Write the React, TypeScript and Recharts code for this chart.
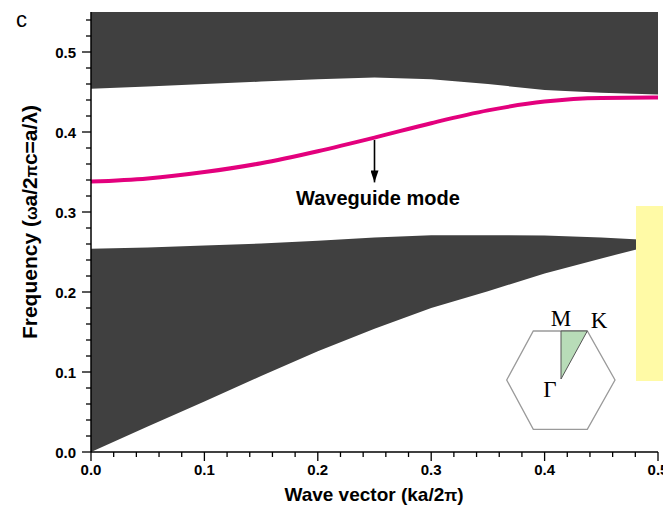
import React from 'react';
import {
  ComposedChart,
  Area,
  Line,
  XAxis,
  YAxis,
  ReferenceLine,
  ReferenceDot,
} from 'recharts';

// Wave vector samples (ka/2π)
const kValues = [0, 0.05, 0.1, 0.15, 0.2, 0.25, 0.3, 0.35, 0.4, 0.45, 0.5];
// Lower edge of the upper (dark) band
const upperBandEdge = [0.454, 0.457, 0.46, 0.463, 0.466, 0.468, 0.466, 0.46, 0.4525, 0.449, 0.447];
// Waveguide mode (magenta curve)
const waveguideMode = [0.338, 0.342, 0.35, 0.361, 0.376, 0.393, 0.411, 0.427, 0.438, 0.4425, 0.443];
// Lower dark band: top and bottom edges
const lowerBandTop = [0.254, 0.2555, 0.258, 0.2605, 0.264, 0.268, 0.271, 0.271, 0.2705, 0.268, 0.2645];
const lowerBandBottom = [0, 0.032, 0.063, 0.095, 0.126, 0.154, 0.18, 0.201, 0.223, 0.242, 0.26];

const FREQ_MAX = 0.55;
const K_MAX = 0.5;

const xMajorTicks = [0, 0.1, 0.2, 0.3, 0.4, 0.5];
const xAllTicks = [
  0, 0.02, 0.04, 0.06, 0.08, 0.1, 0.12, 0.14, 0.16, 0.18, 0.2, 0.22, 0.24, 0.26,
  0.28, 0.3, 0.32, 0.34, 0.36, 0.38, 0.4, 0.42, 0.44, 0.46, 0.48, 0.5,
];
const yMajorTicks = [0, 0.1, 0.2, 0.3, 0.4, 0.5];
const yAllTicks = [
  0, 0.02, 0.04, 0.06, 0.08, 0.1, 0.12, 0.14, 0.16, 0.18, 0.2, 0.22, 0.24, 0.26,
  0.28, 0.3, 0.32, 0.34, 0.36, 0.38, 0.4, 0.42, 0.44, 0.46, 0.48, 0.5, 0.52, 0.54,
];

const data = kValues.map((k, i) => ({
  k,
  upper: [upperBandEdge[i], FREQ_MAX],
  lower: [lowerBandBottom[i], lowerBandTop[i]],
  mode: waveguideMode[i],
}));

const FONT = '"Liberation Sans", Arial, Helvetica, sans-serif';
const SERIF = '"Liberation Serif", "Times New Roman", serif';

const XTick = (props: any) => {
  const { x, y, payload } = props;
  const v = payload.value;
  const major = xMajorTicks.includes(v);
  return (
    <g>
      <line x1={x} y1={y} x2={x} y2={y + (major ? 9 : 5)} stroke="#000" strokeWidth={1.3} />
      {major && (
        <text x={x} y={y + 23} textAnchor="middle" fontFamily={FONT} fontWeight="bold" fontSize={15} fill="#000">
          {v.toFixed(1)}
        </text>
      )}
    </g>
  );
};

const YTick = (props: any) => {
  const { x, y, payload } = props;
  const v = payload.value;
  const major = yMajorTicks.includes(v);
  return (
    <g>
      <line x1={x} y1={y} x2={x - (major ? 9 : 5)} y2={y} stroke="#000" strokeWidth={1.3} />
      {major && (
        <text x={x - 15} y={y + 5.5} textAnchor="end" fontFamily={FONT} fontWeight="bold" fontSize={15} fill="#000">
          {v.toFixed(1)}
        </text>
      )}
    </g>
  );
};

const ArrowShape = (props: any) => {
  const { x1, y1, x2, y2 } = props;
  return (
    <line x1={x1} y1={y1} x2={x2} y2={y2} stroke="#000" strokeWidth={1.6} markerEnd="url(#wgArrow)" />
  );
};

export default function App() {
  return (
    <div style={{ position: 'absolute', left: 0, top: 0, width: 663, height: 514, overflow: 'hidden', background: '#fff' }}>
      <svg width={0} height={0} style={{ position: 'absolute' }}>
        <defs>
          <marker id="wgArrow" viewBox="0 0 12 8" refX={12} refY={4} markerWidth={12} markerHeight={8} markerUnits="userSpaceOnUse" orient="auto">
            <path d="M0,0 L12,4 L0,8 z" fill="#000" />
          </marker>
        </defs>
      </svg>
      <ComposedChart
        width={663}
        height={514}
        data={data}
        margin={{ top: 12, right: 5, bottom: 0, left: 0 }}
      >
        <XAxis
          dataKey="k"
          type="number"
          domain={[0, K_MAX]}
          ticks={xAllTicks}
          interval={0}
          tick={XTick}
          tickLine={false}
          tickSize={0}
          tickMargin={0}
          height={62}
          allowDataOverflow
          axisLine={{ stroke: '#000', strokeWidth: 1.5 }}
        />
        <XAxis xAxisId="top" orientation="top" type="number" domain={[0, K_MAX]} height={0} tick={false} tickLine={false} axisLine={{ stroke: '#222', strokeWidth: 1 }} />
        <YAxis
          type="number"
          domain={[0, FREQ_MAX]}
          ticks={yAllTicks}
          interval={0}
          tick={YTick}
          tickLine={false}
          tickSize={0}
          tickMargin={0}
          width={91}
          allowDataOverflow
          axisLine={{ stroke: '#000', strokeWidth: 1.5 }}
        />
        <YAxis yAxisId="right" orientation="right" type="number" domain={[0, FREQ_MAX]} width={0} tick={false} tickLine={false} axisLine={{ stroke: '#333', strokeWidth: 1.3 }} />
        <Area dataKey="upper" type="linear" stroke="none" fill="#404040" fillOpacity={1} isAnimationActive={false} />
        <Area dataKey="lower" type="linear" stroke="none" fill="#404040" fillOpacity={1} isAnimationActive={false} />
        <Line dataKey="mode" type="monotone" stroke="#e3007d" strokeWidth={4} dot={false} activeDot={false} isAnimationActive={false} />
        <ReferenceLine
          segment={[{ x: 0.25, y: 0.39 }, { x: 0.25, y: 0.337 }]}
          shape={ArrowShape}
        />
        <ReferenceDot
          x={0.253}
          y={0.318}
          r={0}
          fill="none"
          stroke="none"
          label={{ value: 'Waveguide mode', position: 'center', fill: '#000', fontSize: 20, fontWeight: 'bold', fontFamily: FONT }}
        />
      </ComposedChart>
      <svg width={663} height={514} style={{ position: 'absolute', left: 0, top: 0, pointerEvents: 'none' }}>
        <text x={16} y={27} fontFamily={FONT} fontSize={22} fill="#000">c</text>
        <text
          transform="translate(37,222) rotate(-90)"
          textAnchor="middle"
          fontFamily={FONT}
          fontWeight="bold"
          fontSize={21}
          fill="#000"
        >
          Frequency (<tspan fontSize={16}>ω</tspan>a/2<tspan fontSize={16}>π</tspan>c=a/λ)
        </text>
        <text x={374} y={501} textAnchor="middle" fontFamily={FONT} fontWeight="bold" fontSize={19} fill="#000">
          Wave vector (ka/2<tspan fontSize={17}>π</tspan>)
        </text>
        <rect x={636} y={206} width={30} height={175} fill="#fffaa6" />
        <polygon
          points="506.7,380 533.3,331 587.3,331 615,380 587.3,429.3 533.3,429.3"
          fill="none"
          stroke="#9a9a9a"
          strokeWidth={1.3}
        />
        <polygon points="561,331 587.3,331 561,379" fill="#b8dcb8" stroke="#555" strokeWidth={1} />
        <text x={561} y={326} textAnchor="middle" fontFamily={SERIF} fontSize={23} fill="#000">M</text>
        <text x={599} y={328} textAnchor="middle" fontFamily={SERIF} fontSize={23} fill="#000">K</text>
        <text x={550} y={397} textAnchor="middle" fontFamily={SERIF} fontSize={23} fill="#000">Γ</text>
      </svg>
    </div>
  );
}
